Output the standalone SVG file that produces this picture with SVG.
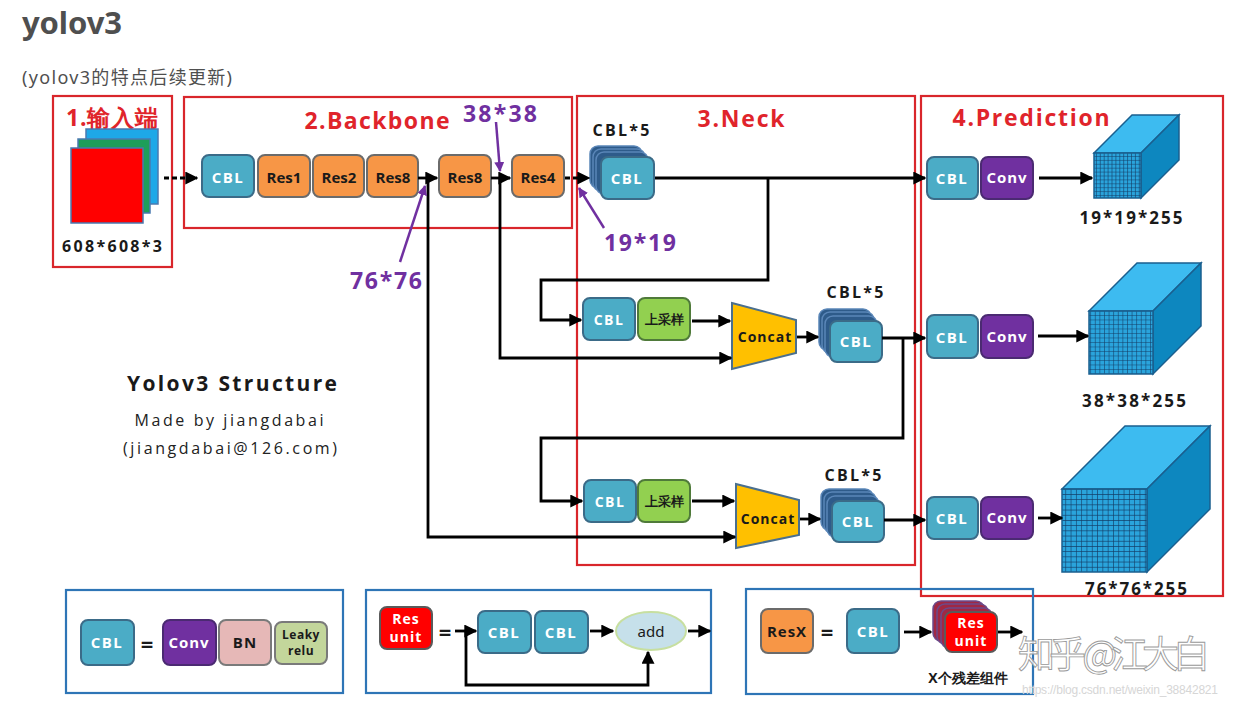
<svg xmlns="http://www.w3.org/2000/svg" width="1238" height="709" viewBox="0 0 1238 709">
<style>
.bg{fill:#fff}
.redbox{fill:none;stroke:#d9262b;stroke-width:2.2}
.bluebox{fill:none;stroke:#2e75b6;stroke-width:2.2}
.cbl{fill:#4bacc6;stroke:#3b6b88;stroke-width:2}
.res{fill:#f79646;stroke:#6b6b6b;stroke-width:2}
.conv{fill:#7030a0;stroke:#4b2a72;stroke-width:2}
.up{fill:#92d050;stroke:#4f7a3a;stroke-width:2}
.bn{fill:#e6b8b7;stroke:#7a7a7a;stroke-width:2}
.leaky{fill:#c3d69b;stroke:#7a7a7a;stroke-width:2}
.resu{fill:#ff0000;stroke:#5a5a5a;stroke-width:2}
.stk{fill:#2e5b8a;stroke:#5a86b8;stroke-width:1.5}
.stkr{fill:#a02844;stroke:#6b4a8a;stroke-width:1.5}
.concat{fill:#ffc000;stroke:#4a6f8f;stroke-width:2}
.t{font-family:"Open Sans","Noto Sans",sans-serif;font-weight:700;text-anchor:middle;dominant-baseline:central}
.w{fill:#fff}
.d{fill:#1a1a1a}
.lab{font-size:23px;fill:#e0242b}
.pur{font-size:23px;fill:#7030a0}
.ln{fill:none;stroke:#000;stroke-width:2.8}
.dash{fill:none;stroke:#000;stroke-width:2.8;stroke-dasharray:5 3}
.pl{fill:none;stroke:#7030a0;stroke-width:2.5}
.top{fill:#3dbbf0;stroke:#1a5f8f;stroke-width:1.5}
.side{fill:#0d87bf;stroke:#1a5f8f;stroke-width:1.5}
</style>
<defs>
<marker id="ah" viewBox="0 0 10 10" refX="9" refY="5" markerUnits="userSpaceOnUse" markerWidth="13" markerHeight="13" orient="auto">
<path d="M0,0 L10,5 L0,10 z" fill="#000"/>
</marker>
<marker id="ap" viewBox="0 0 10 10" refX="9" refY="5" markerUnits="userSpaceOnUse" markerWidth="10" markerHeight="10" orient="auto">
<path d="M0,0 L10,5 L0,10 z" fill="#7030a0"/>
</marker>
<pattern id="g1" patternUnits="userSpaceOnUse" width="3.9" height="3.9">
<rect width="3.9" height="3.9" fill="#2aa4dc"/>
<path d="M0,0 H3.9 M0,0 V3.9" stroke="#123a63" stroke-width="1.2"/>
</pattern>
<pattern id="g2" patternUnits="userSpaceOnUse" width="4.6" height="4.5">
<rect width="4.6" height="4.5" fill="#2aa4dc"/>
<path d="M0,0 H4.6 M0,0 V4.5" stroke="#123a63" stroke-width="1.1"/>
</pattern>
<pattern id="g3" patternUnits="userSpaceOnUse" width="5.3" height="5.2">
<rect width="5.3" height="5.2" fill="#2aa4dc"/>
<path d="M0,0 H5.3 M0,0 V5.2" stroke="#123a63" stroke-width="1.2"/>
</pattern>
</defs>
<rect class="bg" width="1238" height="709"/>

<g id="header">
<text x="22" y="22" font-family="'Noto Sans','Open Sans',sans-serif" font-weight="700" font-size="31" fill="#4f4f4f" dominant-baseline="central" textLength="100">yolov3</text>
<text x="22" y="77" font-family="'Noto Sans','Noto Sans CJK SC',sans-serif" font-size="18" fill="#4f4f4f" dominant-baseline="central" textLength="210">(yolov3的特点后续更新)</text>
</g>

<g id="sections">
<rect class="redbox" x="53" y="96" width="119" height="171"/>
<text class="t lab" x="112" y="117" font-family="'Noto Sans CJK SC',sans-serif" textLength="92">1.输入端</text>
<rect class="redbox" x="184" y="97" width="388" height="131"/>
<text class="t lab" x="377" y="120" textLength="145">2.Backbone</text>
<rect class="redbox" x="577" y="96" width="338" height="469"/>
<text class="t lab" x="741" y="118" textLength="87">3.Neck</text>
<rect class="redbox" x="921" y="96" width="302" height="500"/>
<text class="t lab" x="1031" y="117" textLength="157">4.Prediction</text>
</g>

<g id="input">
<rect x="86" y="129" width="72" height="75" fill="#1ea8e8" stroke="#4a7ab0" stroke-width="1.5"/>
<rect x="78" y="139" width="72" height="74" fill="#1e9e5a" stroke="#4a7ab0" stroke-width="1.5"/>
<rect x="71" y="148" width="72" height="75" fill="#ff0000" stroke="#4a7ab0" stroke-width="1.5"/>
<text class="t d" x="112" y="246" font-size="16" textLength="100">608*608*3</text>
</g>

<g id="bb-cbl"><rect class="cbl" x="202" y="155" width="52" height="42" rx="7"/><text class="t w" x="228" y="177" font-size="15" letter-spacing="1.5">CBL</text></g>
<g id="bb-res1"><rect class="res" x="258" y="155" width="52" height="42" rx="7"/><text class="t d" x="284" y="177" font-size="15">Res1</text></g>
<g id="bb-res2"><rect class="res" x="313" y="155" width="51" height="42" rx="7"/><text class="t d" x="339" y="177" font-size="15">Res2</text></g>
<g id="bb-res8a"><rect class="res" x="367" y="155" width="51" height="42" rx="7"/><text class="t d" x="393" y="177" font-size="15">Res8</text></g>
<g id="bb-res8b"><rect class="res" x="439" y="155" width="52" height="42" rx="7"/><text class="t d" x="465" y="177" font-size="15">Res8</text></g>
<g id="bb-res4"><rect class="res" x="512" y="155" width="52" height="42" rx="7"/><text class="t d" x="538" y="177" font-size="15">Res4</text></g>

<g id="neck-stack1">
<text class="t d" x="621" y="130" font-size="16" textLength="57">CBL*5</text>
<rect class="stk" x="590" y="146" width="52" height="42" rx="8"/>
<rect class="stk" x="593" y="149" width="52" height="42" rx="8"/>
<rect class="stk" x="596" y="152" width="52" height="42" rx="8"/>
<rect class="cbl" x="601" y="157" width="53" height="42" rx="7"/>
<text class="t w" x="627" y="178" font-size="15" letter-spacing="1.5">CBL</text>
</g>

<g id="neck-cbl2"><rect class="cbl" x="583" y="298" width="52" height="42" rx="7"/><text class="t w" x="609" y="319" font-size="14" letter-spacing="1.5">CBL</text></g>
<g id="neck-up2"><rect class="up" x="638" y="298" width="52" height="42" rx="7"/><text class="t d" x="664" y="319" font-size="13" font-family="'Noto Sans CJK SC',sans-serif">上采样</text></g>
<g id="neck-concat1"><polygon class="concat" points="732,303 796,320 796,353 732,369"/><text class="t d" x="765" y="336" font-size="14" letter-spacing="1">Concat</text></g>
<g id="neck-stack2">
<text class="t d" x="855" y="292" font-size="16" textLength="57">CBL*5</text>
<rect class="stk" x="819" y="309" width="52" height="41" rx="8"/>
<rect class="stk" x="822" y="312" width="52" height="41" rx="8"/>
<rect class="stk" x="825" y="316" width="52" height="41" rx="8"/>
<rect class="cbl" x="830" y="321" width="52" height="41" rx="7"/>
<text class="t w" x="856" y="341" font-size="15" letter-spacing="1.5">CBL</text>
</g>

<g id="neck-cbl3"><rect class="cbl" x="584" y="480" width="52" height="42" rx="7"/><text class="t w" x="610" y="501" font-size="14" letter-spacing="1.5">CBL</text></g>
<g id="neck-up3"><rect class="up" x="638" y="480" width="52" height="42" rx="7"/><text class="t d" x="664" y="501" font-size="13" font-family="'Noto Sans CJK SC',sans-serif">上采样</text></g>
<g id="neck-concat2"><polygon class="concat" points="736,484 799,500 799,535 736,548"/><text class="t d" x="768" y="518" font-size="14" letter-spacing="1">Concat</text></g>
<g id="neck-stack3">
<text class="t d" x="853" y="475" font-size="16" textLength="57">CBL*5</text>
<rect class="stk" x="821" y="489" width="52" height="41" rx="8"/>
<rect class="stk" x="824" y="492" width="52" height="41" rx="8"/>
<rect class="stk" x="827" y="496" width="52" height="41" rx="8"/>
<rect class="cbl" x="832" y="501" width="52" height="41" rx="7"/>
<text class="t w" x="858" y="521" font-size="15" letter-spacing="1.5">CBL</text>
</g>

<g id="pred1">
<rect class="cbl" x="927" y="157" width="51" height="42" rx="7"/><text class="t w" x="952" y="178" font-size="15" letter-spacing="1.5">CBL</text>
<rect class="conv" x="981" y="157" width="52" height="42" rx="7"/><text class="t w" x="1007" y="177" font-size="15" letter-spacing="1">Conv</text>
</g>
<g id="pred2">
<rect class="cbl" x="927" y="315" width="51" height="43" rx="7"/><text class="t w" x="952" y="337" font-size="15" letter-spacing="1.5">CBL</text>
<rect class="conv" x="981" y="315" width="52" height="43" rx="7"/><text class="t w" x="1007" y="336" font-size="15" letter-spacing="1">Conv</text>
</g>
<g id="pred3">
<rect class="cbl" x="927" y="497" width="51" height="42" rx="7"/><text class="t w" x="952" y="518" font-size="15" letter-spacing="1.5">CBL</text>
<rect class="conv" x="981" y="497" width="52" height="42" rx="7"/><text class="t w" x="1007" y="517" font-size="15" letter-spacing="1">Conv</text>
</g>

<g id="cube1">
<polygon class="top" points="1094,153 1132,115 1179,115 1141,153"/>
<polygon class="side" points="1141,153 1179,115 1179,160 1141,198"/>
<rect x="1094" y="153" width="47" height="45" fill="url(#g1)" stroke="#1a5f8f" stroke-width="1.5"/>
<text class="t d" x="1131" y="217" font-size="17" textLength="103">19*19*255</text>
</g>
<g id="cube2">
<polygon class="top" points="1089,311 1137,263 1201,263 1153,311"/>
<polygon class="side" points="1153,311 1201,263 1201,326 1153,374"/>
<rect x="1089" y="311" width="64" height="63" fill="url(#g2)" stroke="#1a5f8f" stroke-width="1.5"/>
<text class="t d" x="1134" y="400" font-size="17" textLength="104">38*38*255</text>
</g>
<g id="cube3">
<polygon class="top" points="1062,489 1125,426 1210,426 1147,489"/>
<polygon class="side" points="1147,489 1210,426 1210,509 1147,572"/>
<rect x="1062" y="489" width="85" height="83" fill="url(#g3)" stroke="#1a5f8f" stroke-width="1.5"/>
<text class="t d" x="1136" y="588" font-size="17" textLength="102">76*76*255</text>
</g>

<g id="credits">
<text class="t d" x="232" y="383" font-size="21" textLength="210">Yolov3 Structure</text>
<text x="229" y="420" font-family="'Open Sans','Noto Sans',sans-serif" font-size="16" fill="#222" text-anchor="middle" dominant-baseline="central" textLength="189">Made by jiangdabai</text>
<text x="230" y="448" font-family="'Open Sans','Noto Sans',sans-serif" font-size="16" fill="#222" text-anchor="middle" dominant-baseline="central" textLength="214">(jiangdabai@126.com)</text>
</g>

<g id="connectors">
<path class="dash" d="M164,178 H197" marker-end="url(#ah)"/>
<path class="ln" d="M418,178 H437" marker-end="url(#ah)"/>
<path class="ln" d="M491,178 H510" marker-end="url(#ah)"/>
<path class="dash" d="M565,178 H589" marker-end="url(#ah)"/>
<path class="ln" d="M428,178 V537 H735" marker-end="url(#ah)"/>
<path class="ln" d="M500,178 V358 H731" marker-end="url(#ah)"/>
<path class="ln" d="M655,178 H925" marker-end="url(#ah)"/>
<path class="ln" d="M768,178 V280 H541 V320 H581" marker-end="url(#ah)"/>
<path class="ln" d="M692,321 H730" marker-end="url(#ah)"/>
<path class="ln" d="M797,337 H818" marker-end="url(#ah)"/>
<path class="ln" d="M882,338 H925" marker-end="url(#ah)"/>
<path class="ln" d="M903,338 V438 H541 V501 H582" marker-end="url(#ah)"/>
<path class="ln" d="M692,501 H734" marker-end="url(#ah)"/>
<path class="ln" d="M800,519 H820" marker-end="url(#ah)"/>
<path class="ln" d="M884,520 H925" marker-end="url(#ah)"/>
<path class="ln" d="M1039,178 H1092" marker-end="url(#ah)"/>
<path class="ln" d="M1038,336 H1088" marker-end="url(#ah)"/>
<path class="ln" d="M1038,518 H1062" marker-end="url(#ah)"/>
<path class="pl" d="M496,122 L500,171" marker-end="url(#ap)"/>
<path class="pl" d="M400,262 L425,186" marker-end="url(#ap)"/>
<path class="pl" d="M604,228 L579,188" marker-end="url(#ap)"/>
</g>

<g id="size-labels">
<text class="t pur" x="500" y="113" textLength="74">38*38</text>
<text class="t pur" x="386" y="280" textLength="72">76*76</text>
<text class="t pur" x="640" y="242" textLength="72">19*19</text>
</g>

<g id="legend-cbl">
<rect class="bluebox" x="66" y="590" width="277" height="103"/>
<rect class="cbl" x="81" y="620" width="53" height="45" rx="7"/><text class="t w" x="107" y="642" font-size="15" letter-spacing="1.5">CBL</text>
<text class="t d" x="147" y="643" font-size="22">=</text>
<rect class="conv" x="163" y="620" width="53" height="45" rx="7"/><text class="t w" x="189" y="642" font-size="15" letter-spacing="1">Conv</text>
<rect class="bn" x="219" y="620" width="52" height="45" rx="7"/><text class="t d" x="245" y="642" font-size="15" letter-spacing="1">BN</text>
<rect class="leaky" x="275" y="622" width="52" height="42" rx="7"/>
<text class="t d" x="301" y="634" font-size="12" letter-spacing="0.5">Leaky</text>
<text class="t d" x="301" y="650" font-size="12" letter-spacing="0.5">relu</text>
</g>

<g id="legend-resunit">
<rect class="bluebox" x="366" y="590" width="345" height="103"/>
<rect class="resu" x="380" y="607" width="52" height="42" rx="7"/>
<text class="t w" x="406" y="618" font-size="14" letter-spacing="1">Res</text>
<text class="t w" x="406" y="636" font-size="14" letter-spacing="1">unit</text>
<text class="t d" x="445" y="631" font-size="22">=</text>
<rect class="cbl" x="478" y="611" width="53" height="42" rx="7"/><text class="t w" x="504" y="632" font-size="15" letter-spacing="1.5">CBL</text>
<rect class="cbl" x="535" y="611" width="53" height="42" rx="7"/><text class="t w" x="561" y="632" font-size="15" letter-spacing="1.5">CBL</text>
<ellipse cx="651" cy="631" rx="35" ry="19" fill="#c6e0ea" stroke="#c7dfa0" stroke-width="2"/>
<text x="651" y="631" font-family="'Noto Sans','Liberation Sans',sans-serif" font-size="15" fill="#1a1a1a" text-anchor="middle" dominant-baseline="central">add</text>
<path class="ln" d="M455,631 H476" marker-end="url(#ah)"/>
<path class="ln" d="M590,631 H613" marker-end="url(#ah)"/>
<path class="ln" d="M688,631 H710" marker-end="url(#ah)"/>
<path class="ln" d="M466,631 V685 H648 V652" marker-end="url(#ah)"/>
</g>

<g id="legend-resx">
<rect class="bluebox" x="746" y="589" width="287" height="105"/>
<rect class="res" x="761" y="609" width="52" height="44" rx="7"/><text class="t d" x="787" y="631" font-size="15" letter-spacing="1">ResX</text>
<text class="t d" x="827" y="631" font-size="22">=</text>
<rect class="cbl" x="847" y="609" width="52" height="44" rx="7"/><text class="t w" x="873" y="631" font-size="15" letter-spacing="1.5">CBL</text>
<path class="ln" d="M904,632 H931" marker-end="url(#ah)"/>
<rect class="stkr" x="933" y="601" width="51" height="40" rx="8"/>
<rect class="stkr" x="937" y="604" width="51" height="40" rx="8"/>
<rect class="stkr" x="941" y="608" width="51" height="40" rx="8"/>
<rect class="resu" x="945" y="612" width="52" height="40" rx="7"/>
<text class="t w" x="971" y="622" font-size="14" letter-spacing="1">Res</text>
<text class="t w" x="971" y="640" font-size="14" letter-spacing="1">unit</text>
<path class="ln" d="M998,632 H1022" marker-end="url(#ah)"/>
<text class="t d" x="968" y="677" font-size="14" font-family="'Noto Sans CJK SC',sans-serif">X个残差组件</text>
</g>

<g id="watermark">
<text x="1018" y="652" font-family="'Noto Sans CJK SC',sans-serif" font-size="37" fill="#ffffff" fill-opacity="0.8" stroke="#9a9a9a" stroke-width="0.9" dominant-baseline="central" textLength="192">知乎 @江大白</text>
<text x="1022" y="690" font-family="'Liberation Sans',sans-serif" font-size="12" fill="#d6d6d6" dominant-baseline="central" textLength="196">https://blog.csdn.net/weixin_38842821</text>
</g>
</svg>
